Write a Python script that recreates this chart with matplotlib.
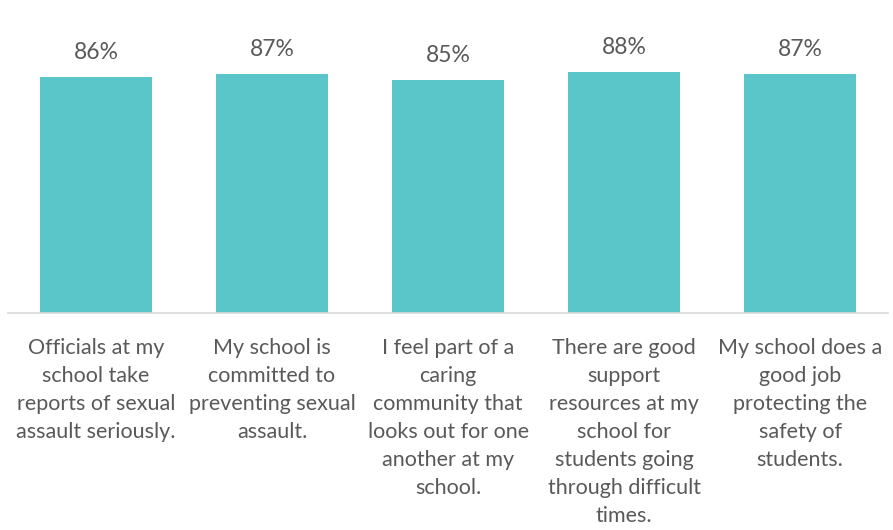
import matplotlib.pyplot as plt
import matplotlib.transforms as mtransforms

categories = [
    'Officials at my\nschool take\nreports of sexual\nassault seriously.',
    'My school is\ncommitted to\npreventing sexual\nassault.',
    'I feel part of a\ncaring\ncommunity that\nlooks out for one\nanother at my\nschool.',
    'There are good\nsupport\nresources at my\nschool for\nstudents going\nthrough difficult\ntimes.',
    'My school does a\ngood job\nprotecting the\nsafety of\nstudents.',
]
values = [86, 87, 85, 88, 87]

BAR_COLOR = '#5BC6C9'
TEXT_COLOR = '#595959'

plt.rcParams['font.family'] = ['Lato', 'DejaVu Sans']

fig = plt.figure(figsize=(8.93, 5.30), dpi=100)
ax = fig.add_axes([0.009, 0.4094, 0.9855, 0.5177])

x = range(len(values))
bars = ax.bar(x, values, width=0.636, color=BAR_COLOR, zorder=2)

for xi, v in zip(x, values):
    ax.annotate(f'{v}%', (xi, v), xytext=(0, 10), textcoords='offset points',
                ha='center', va='bottom', fontsize=16.5, color=TEXT_COLOR)

ax.set_xlim(-0.5, len(values) - 0.5)
ax.set_ylim(0, 100)
ax.set_xticks([])
ax.set_yticks([])

trans = mtransforms.blended_transform_factory(ax.transData, ax.transAxes)
for xi, label in zip(x, categories):
    ax.annotate(label, (xi, 0), xycoords=trans, xytext=(0, -18),
                textcoords='offset points', ha='center', va='top',
                fontsize=15.5, color=TEXT_COLOR, linespacing=1.5)

for side in ['top', 'right', 'left']:
    ax.spines[side].set_visible(False)
ax.spines['bottom'].set_color('#D9D9D9')
ax.spines['bottom'].set_linewidth(1.2)

fig.savefig('out.png', dpi=100)
